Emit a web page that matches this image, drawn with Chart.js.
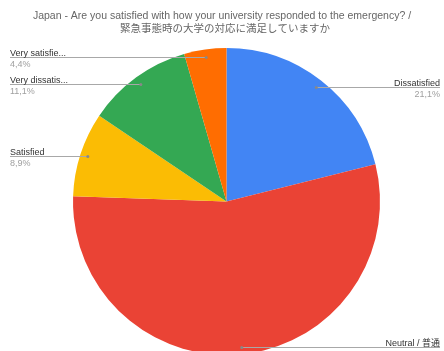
<!DOCTYPE html>
<html><head><meta charset="utf-8">
<script src="https://cdn.jsdelivr.net/npm/chart.js@4"></script>
<style>
html,body{margin:0;padding:0;background:#fff;}
#wrap{width:444px;height:351px;overflow:hidden;position:relative;}
</style></head>
<body>
<div id="wrap"><canvas id="c" width="444" height="372"></canvas></div>
<script>
const titleLines = ["Japan - Are you satisfied with how your university responded to the emergency? /", "緊急事態時の大学の対応に満足していますか"];
const categories = ["Dissatisfied", "Neutral / 普通", "Satisfied", "Very dissatisfied", "Very satisfied"];
const shortLabels = ["Dissatisfied", "Neutral / 普通", "Satisfied", "Very dissatis...", "Very satisfie..."];
const counts = [19, 49, 8, 10, 4];
const percentLabels = ["21,1%", "54,4%", "8,9%", "11,1%", "4,4%"];
const colors = ["#4285F4", "#EA4335", "#FBBC04", "#34A853", "#FF6D01"];

const labelPlugin = {
  id: 'sheetLabels',
  afterDraw(chart) {
    const ctx = chart.ctx;
    const meta = chart.getDatasetMeta(0);
    const W = chart.width;
    ctx.save();
    // title
    ctx.fillStyle = '#666';
    ctx.font = '10.5px "Liberation Sans", Arial, sans-serif';
    ctx.textAlign = 'center';
    ctx.textBaseline = 'middle';
    ctx.fillText(titleLines[0], 222, 16);
    ctx.font = '10.5px "Noto Sans CJK JP", sans-serif';
    ctx.fillText(titleLines[1], 225, 28);
    meta.data.forEach((arc, i) => {
      const mid = (arc.startAngle + arc.endAngle) / 2;
      const r = arc.outerRadius * 0.95;
      const px = arc.x + Math.cos(mid) * r;
      const py = arc.y + Math.sin(mid) * r;
      const right = Math.cos(mid) > 0;
      const x0 = right ? W - 4 : 10;
      ctx.strokeStyle = '#a8a8a8';
      ctx.lineWidth = 1;
      ctx.beginPath();
      ctx.moveTo(x0, Math.round(py) + 0.5);
      ctx.lineTo(px, Math.round(py) + 0.5);
      ctx.stroke();
      ctx.fillStyle = '#888';
      ctx.beginPath();
      ctx.arc(px, Math.round(py) + 0.5, 1.5, 0, Math.PI * 2);
      ctx.fill();
      ctx.textAlign = right ? 'right' : 'left';
      ctx.font = '9px "Liberation Sans", Arial, "Noto Sans CJK JP", sans-serif';
      ctx.fillStyle = '#333';
      ctx.textBaseline = 'alphabetic';
      ctx.fillText(shortLabels[i], x0, Math.round(py) - 1.5);
      ctx.fillStyle = '#a0a0a0';
      ctx.textBaseline = 'top';
      ctx.fillText(percentLabels[i], x0, Math.round(py) + 3);
    });
    ctx.restore();
  }
};

new Chart(document.getElementById('c'), {
  type: 'pie',
  data: {
    labels: categories,
    datasets: [{ data: counts, backgroundColor: colors, borderWidth: 0 }]
  },
  options: {
    responsive: false,
    animation: false,
    devicePixelRatio: 1,
    layout: { padding: { left: 73, right: 64, top: 48, bottom: 17 } },
    plugins: { legend: { display: false }, tooltip: { enabled: false }, title: { display: false } }
  },
  plugins: [labelPlugin]
});
</script>
</body></html>
